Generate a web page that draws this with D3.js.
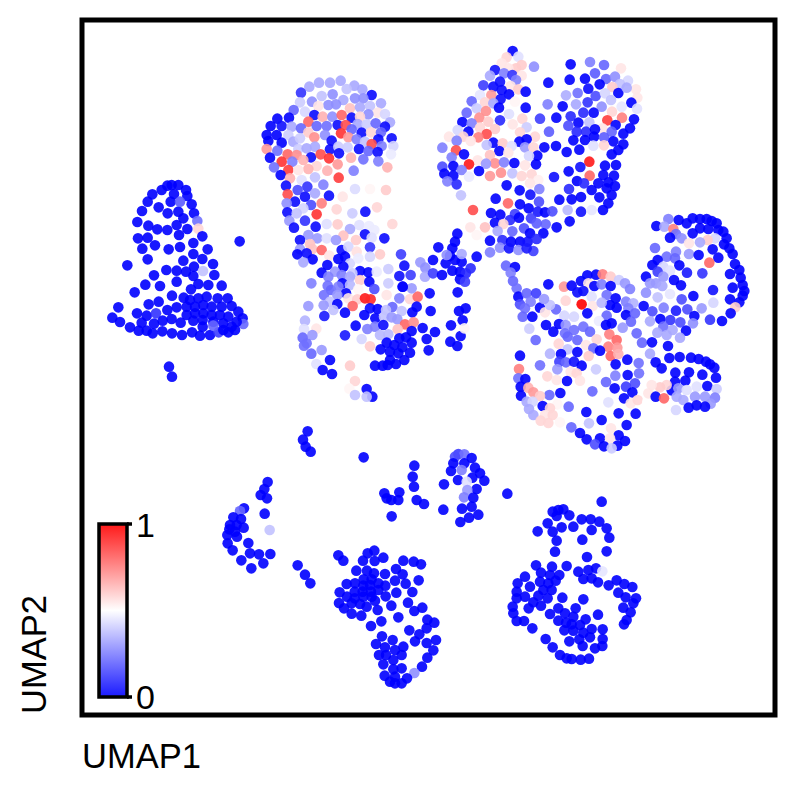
<!DOCTYPE html>
<html><head><meta charset="utf-8">
<script src="https://cdn.jsdelivr.net/npm/d3@7"></script>
<style>html,body{margin:0;padding:0;background:#fff}svg{display:block}text{font-family:"Liberation Sans",Arial,sans-serif;fill:#000}</style>
</head><body><svg id="chart" width="796" height="796"></svg>
<script>
// Each cluster: readings [a, b, score] measured from a local origin (a, b in 1/30 UMAP units)
const bellCluster=[[275,45,0],[295,45,0],[262,47,0],[245,60,0],[217,73,0],[203,95,0],[186,123,0],[172,156,0],[318,60,0],[322,78,0],[335,103,0],[342,130,0],[272,95,0],[282,72,0],[236,112,0],[263,130,0],[295,125,0],[310,145,0],[300,95,.18],[352,153,.22],[355,176,.58],[205,167,0],[232,178,0],[262,180,0],[290,165,0],[322,177,0],[297,195,0],[367,199,0],[174,205,0],[203,203,0],[225,226,0],[187,236,0],[266,238,0],[300,231,0],[340,219,0],[340,252,0],[383,238,0],[203,268,0],[142,286,0],[310,272,0],[367,267,0],[399,282,0],[342,290,0],[259,300,0],[290,302,0],[318,305,0],[369,303,.38],[403,315,0],[340,318,0],[222,316,0],[290,335,0],[196,344,0],[240,348,0],[355,342,0],[385,345,0],[425,347,0],[333,358,0],[164,367,0],[276,377,0],[311,383,0],[206,403,0],[236,395,0],[115,412,0],[97,443,0],[120,456,0],[171,430,0],[200,437,0],[228,430,.1],[262,420,0],[290,412,0],[275,447,0],[248,452,0],[185,458,0],[222,461,0],[150,472,0],[176,482,0],[200,482,0],[218,490,0],[247,484,0],[276,490,0],[306,495,0],[336,487,0],[360,497,0],[390,495,0],[302,458,0],[330,390,0],[355,385,0],[380,380,0],[413,385,0],[443,385,0],[320,410,0],[345,410,0],[370,405,0],[395,410,0],[425,410,0],[455,408,0],[475,425,0],[488,445,0],[490,462,.2],[470,455,0],[445,440,0],[420,435,0],[395,435,0],[370,430,0],[345,430,0],[320,435,0],[340,452,0],[368,450,0],[400,455,0],[430,460,0],[455,470,0],[465,480,0],[445,487,0],[416,487,.12],[400,467,.2],[368,470,0],[430,480,0],[267,590,0],[276,620,0],[479,214,0]];
const crownCluster=[[163,50,.33],[192,38,.33],[225,38,.33],[257,32,.33],[298,47,.33],[322,58,.33],[138,68,.1],[350,75,.02],[275,57,.38],[233,73,.28],[200,78,.38],[171,95,.28],[135,97,.4],[300,85,.28],[265,90,.33],[325,85,.28],[378,100,.33],[243,103,.28],[220,105,.28],[190,108,.55],[116,120,.2],[150,125,.42],[285,115,.62],[315,112,.33],[345,108,.38],[368,128,.55],[390,132,.42],[340,133,.28],[178,135,.02],[203,140,.65],[232,140,.28],[260,135,.8],[290,143,.02],[315,140,.58],[405,157,.33],[67,146,0],[102,143,0],[160,155,.8],[80,168,.03],[47,168,0],[185,168,.2],[215,168,.22],[248,165,.02],[272,165,.85],[308,162,.33],[335,163,.4],[362,160,.2],[390,170,.02],[110,170,.33],[138,175,.2],[35,195,0],[65,195,0],[100,195,.4],[160,187,.6],[258,190,.9],[290,178,.2],[320,188,.02],[348,187,.58],[378,187,.2],[178,202,.72],[210,195,.28],[280,202,.7],[410,205,.02],[40,213,0],[80,218,0],[115,215,.33],[135,205,.4],[230,212,.02],[305,208,.25],[330,215,.38],[370,208,.02],[350,222,.85],[415,228,.42],[35,237,.7],[67,242,.22],[130,237,.4],[155,235,.33],[180,230,.33],[225,238,.02],[250,230,.4],[278,232,.4],[312,237,.02],[340,243,.2],[380,228,.25],[368,246,.02],[45,263,0],[98,253,.8],[125,255,.72],[80,275,.9],[112,275,.25],[168,262,.02],[197,253,.85],[222,265,.9],[252,250,.02],[288,263,.65],[325,268,.22],[370,274,.25],[408,253,.46],[145,270,.65],[248,283,.7],[57,292,.22],[100,300,.88],[185,288,.58],[160,297,.65],[217,302,.65],[130,300,.55],[397,292,.65],[296,302,.25],[77,315,0],[105,325,.65],[180,322,.38],[251,323,.88],[140,330,.44],[93,347,.02],[157,350,.1],[128,360,.15],[205,344,.25],[300,357,.43],[345,357,.52],[393,360,.6],[98,373,.85],[150,380,.02],[180,370,.33],[222,377,.02],[263,380,.55],[120,395,.02],[95,400,.28],[168,405,.15],[200,400,.75],[145,415,.42],[245,418,.58],[292,430,.4],[331,425,.02],[366,412,.58],[97,427,.02],[185,433,.9],[125,430,.38],[103,452,.3],[150,452,.1],[215,462,.44],[248,463,.6],[313,465,.44],[342,468,.46],[412,462,.58],[117,473,.02],[182,470,.02],[285,477,.33],[358,480,.46],[160,495,.3],[187,505,.3],[330,493,.02],[265,497,.62],[135,510,.02],[215,505,.44],[243,510,.3],[388,505,.02],[303,510,.6],[350,503,.44]];
const lowerCrown=[[90,42,.62],[97,57,.62],[125,60,.8],[60,58,.3],[52,73,0],[80,70,.02],[148,77,.55],[185,60,.02],[205,50,.42],[270,52,.1],[230,65,.56],[300,73,.6],[175,87,0],[195,80,0],[98,88,0],[70,97,.33],[270,80,.42],[210,100,.42],[235,85,.46],[142,105,0],[190,110,0],[125,128,0],[165,125,.3],[145,140,.25],[240,123,0],[265,127,0],[217,130,.4],[290,125,.46],[325,117,.4],[185,135,.25],[210,140,.33],[94,160,.25],[143,167,.22],[187,160,0],[240,150,.6],[268,155,0],[325,160,.4],[153,180,.2],[210,165,.36],[175,170,.25],[132,195,.22],[198,190,0],[235,178,.52],[283,177,.15],[172,195,.3],[205,205,.55],[320,195,.55],[232,208,.6],[255,205,.95],[272,208,.92],[358,205,.25],[150,215,.38],[85,228,.3],[131,226,.3],[172,222,0],[218,228,.8],[390,207,.58],[413,200,.8],[395,175,.3],[368,170,.08],[195,248,0],[133,258,.05],[160,240,.38],[270,235,.02],[293,237,0],[337,231,.2],[318,240,.38],[365,243,.38],[410,230,0],[397,247,0],[253,255,0],[286,265,0],[312,260,.38],[335,262,.3],[352,268,.3],[75,272,.35],[227,287,0],[262,297,.25],[285,290,.25],[310,285,.02],[375,283,.8],[401,277,.72],[353,298,.62],[109,296,.55],[72,297,.44],[97,315,.3],[395,303,0],[195,316,.05],[300,315,.36],[325,313,.36],[245,327,.42],[68,323,.2],[358,325,0],[378,322,0],[270,349,.6],[80,340,.22],[72,347,.22],[125,360,.3],[94,371,.2],[320,338,0],[343,345,0],[367,352,0],[395,338,0],[302,358,0],[330,365,0],[355,370,0],[390,368,0],[330,390,0],[373,390,0],[348,402,0],[323,405,0],[308,407,0],[285,407,0],[150,390,0],[109,402,.44],[128,420,0],[156,432,0],[210,407,.6],[225,453,.58],[208,476,.52],[260,477,0],[225,495,.38],[277,500,0],[260,500,.38],[363,73,.12],[373,107,.02],[358,138,.03],[392,135,.12],[368,170,0],[421,97,.3],[436,113,.28],[435,140,.33],[459,130,.12],[459,90,0],[486,135,0],[510,77,0],[497,100,0],[525,90,0],[545,95,0],[517,122,0],[540,125,0],[572,115,.08],[558,130,.08],[540,148,0],[555,155,.12],[449,190,0],[452,243,0],[533,187,0],[537,243,0],[557,235,0],[548,271,0],[428,294,0],[465,306,0],[513,286,0],[440,327,0],[446,361,0],[542,318,0],[553,295,.52],[511,335,0],[532,348,0]];
const topRightCluster=[[248,33,0],[230,52,.58],[265,50,.44],[215,70,.55],[312,80,.28],[275,75,.6],[258,85,.6],[195,90,.03],[235,85,.55],[180,107,.33],[222,100,.25],[247,105,.1],[275,107,.55],[210,125,.03],[258,120,.25],[160,136,.12],[190,140,.02],[242,138,.55],[265,148,.6],[215,150,.02],[287,155,0],[237,163,0],[150,165,.45],[184,165,.7],[165,187,.58],[212,177,.02],[125,184,.2],[255,185,.52],[190,190,.33],[140,205,.4],[207,203,0],[287,203,0],[110,218,.2],[168,213,.72],[237,222,.44],[148,233,.72],[277,236,.58],[97,246,0],[125,250,.25],[175,245,.6],[210,241,.08],[330,236,.12],[248,253,.55],[150,263,.58],[195,267,.6],[290,262,.4],[83,270,.42],[115,275,0],[270,277,.58],[57,290,.55],[100,290,.58],[170,282,.85],[145,292,.75],[122,303,.55],[315,290,.58],[190,308,0],[218,310,.6],[80,302,.25],[268,305,0],[290,298,0],[245,318,.44],[170,315,.38],[285,322,.3],[310,322,.58],[37,323,.25],[78,331,.85],[208,333,0],[235,338,.55],[322,347,0],[102,343,0],[180,345,.62],[297,348,.42],[65,352,.25],[143,361,.55],[195,370,.72],[222,367,.25],[168,371,.3],[253,369,0],[285,376,.55],[318,373,0],[117,373,.95],[37,380,.15],[70,378,0],[95,390,.25],[147,393,0],[213,398,.72],[247,400,.38],[180,408,.7],[43,401,0],[70,407,0],[275,408,.58],[305,403,.58],[325,420,.53],[117,410,.46],[52,424,.25],[300,430,.55],[80,433,.08],[230,436,0],[328,447,.25],[93,466,.38],[269,451,0],[301,464,.03],[197,476,0],[234,490,.8],[327,485,.15],[129,510,.85],[270,493,0],[183,519,0],[211,524,0],[296,505,0],[323,515,.05],[345,517,0],[255,522,.12],[240,540,.08],[267,533,0],[195,548,0],[220,552,.58],[303,535,.12],[347,553,.2],[282,565,.15],[320,550,.18],[203,573,.33],[247,574,.2],[121,562,.55],[165,562,.62],[140,585,.52],[300,580,0],[340,580,0],[82,581,0],[217,600,.08],[180,602,0],[243,605,0],[270,605,0],[293,605,.03],[320,597,.08],[75,605,0],[25,622,0],[67,625,0],[210,623,.28],[237,625,.03],[265,630,.28],[310,633,.12],[180,637,.25],[290,625,.05],[95,642,.33],[50,645,.28],[140,650,0],[422,73,0],[480,66,.25],[522,75,.2],[573,85,.55],[495,100,.18],[355,128,0],[419,119,0],[465,116,0],[528,117,.2],[555,110,.28],[594,122,.42],[509,133,0],[570,132,.38],[547,141,.6],[475,146,.02],[618,148,.55],[443,159,.22],[408,166,.34],[497,168,.15],[565,159,0],[525,160,.42],[590,143,.33],[622,173,.55],[353,193,.25],[473,187,.1],[398,199,0],[438,193,.33],[543,180,.38],[604,188,0],[515,200,.28],[575,200,.45],[621,206,.44],[546,215,.58],[460,218,.08],[491,218,0],[422,229,.08],[379,233,0],[576,233,.75],[532,241,.88],[612,238,0],[445,248,0],[415,257,.15],[478,247,.38],[557,255,0],[600,265,0],[517,265,.55],[357,275,.18],[440,275,.08],[468,275,.08],[495,268,0],[545,275,.2],[580,281,0],[492,290,0],[522,292,.18],[430,301,0],[465,300,0],[550,304,0],[580,313,0],[343,322,0],[378,318,0],[490,317,.44],[448,329,0],[410,336,0],[522,316,.58],[565,330,0],[545,343,0],[478,365,.95],[525,377,0],[558,375,0],[451,381,.03],[416,394,0],[479,407,.8],[520,405,0],[552,407,0],[372,411,.03],[441,423,0],[505,430,0],[535,427,0],[462,430,.08],[555,438,0],[530,445,0],[417,447,.08],[485,450,0],[545,465,0],[508,472,0],[453,471,0],[388,479,0],[425,478,0],[535,490,0],[413,510,.36],[453,515,.03],[485,510,.45],[519,510,0],[367,514,.15],[419,544,0],[380,562,0]];
const rightFlower=[[18,182,.2],[45,186,0],[32,203,.25],[39,228,.2],[50,250,.22],[55,275,0],[80,265,.2],[108,265,.12],[92,290,.25],[60,298,.15],[120,308,0],[75,310,.22],[68,335,.2],[97,335,0],[135,322,.55],[168,313,.2],[150,300,.38],[132,282,.3],[145,238,0],[192,245,.7],[215,242,0],[243,228,0],[262,211,0],[288,209,0],[308,208,.75],[332,215,.6],[357,225,.4],[375,235,.3],[265,235,.55],[232,262,.02],[250,258,.02],[283,243,0],[305,238,.25],[332,243,0],[390,252,.25],[197,287,.58],[245,298,1],[275,275,.44],[320,270,.22],[347,280,0],[330,300,0],[350,308,0],[378,290,.25],[400,295,.35],[278,303,.55],[305,293,.36],[385,310,.25],[262,325,0],[222,335,.42],[193,332,.42],[320,332,.2],[378,330,0],[405,325,.2],[393,350,.2],[297,348,.46],[138,360,0],[177,357,0],[160,380,0],[197,360,.3],[335,355,0],[318,360,0],[368,368,.3],[88,371,.4],[250,365,.22],[222,375,.22],[270,380,.2],[195,385,.22],[203,395,.2],[328,388,.75],[107,405,.2],[232,405,.2],[290,403,.58],[350,405,.8],[410,385,.2],[426,413,.2],[176,416,.58],[258,420,.55],[325,425,.75],[352,428,.7],[203,433,.38],[280,430,.2],[300,437,0],[232,441,0],[183,447,0],[150,446,.35],[332,453,.8],[355,447,.65],[266,453,.6],[60,452,0],[178,470,.12],[198,472,.2],[222,470,.03],[245,482,0],[120,481,.22],[382,464,0],[416,474,.22],[347,478,0],[172,493,.3],[57,492,.75],[212,500,.55],[230,505,.58],[288,493,.4],[383,510,0],[346,512,.25],[417,505,.22],[142,514,.58],[55,520,.22],[76,522,0],[201,528,0],[240,527,.55],[318,531,.2],[170,525,.55],[405,535,.15],[62,545,0],[85,548,.65],[378,545,.12],[344,550,0],[100,562,.7],[181,564,0],[277,559,.2],[148,570,.2],[120,573,.6],[63,572,0],[397,562,0],[372,580,0],[80,590,.33],[98,590,.42],[392,595,.55],[413,585,.58],[442,590,.5],[128,603,0],[172,598,.52],[325,592,.44],[206,605,.2],[87,612,.33],[150,610,.58],[259,621,0],[356,625,0],[407,626,0],[100,630,.33],[135,630,.55],[158,630,.58],[122,647,.58],[145,654,.58],[180,652,.52],[267,655,.38],[305,645,0],[380,660,0],[214,667,.2],[333,670,.55],[240,684,0],[356,691,0],[260,703,0],[300,700,0],[375,708,0],[285,718,.15],[330,700,.55],[312,724,0],[352,722,0],[335,730,.4],[469,63,0],[505,42,.25],[493,65,.33],[536,45,0],[520,72,.75],[560,55,0],[578,40,0],[600,42,0],[620,42,0],[635,48,0],[650,55,0],[578,85,0],[600,70,0],[625,72,0],[655,75,0],[670,80,0],[528,87,.22],[545,100,.28],[510,98,0],[645,100,.42],[623,105,.6],[680,100,0],[600,112,.33],[567,115,.55],[672,118,0],[465,129,.2],[638,133,0],[688,130,0],[698,147,0],[528,140,.25],[567,147,.3],[596,150,0],[500,155,.22],[655,158,0],[473,165,0],[525,160,.2],[457,180,0],[628,173,.8],[705,177,0],[490,185,.42],[538,181,0],[473,200,.12],[510,197,.44],[718,195,0],[561,203,.05],[607,205,.1],[690,207,0],[438,215,0],[490,215,.3],[722,218,0],[522,225,0],[468,235,.3],[450,235,.3],[487,243,.33],[543,241,0],[728,240,0],[698,248,0],[438,263,.28],[639,255,.03],[733,258,0],[510,267,.45],[473,277,.38],[580,273,0],[728,272,0],[545,283,.15],[690,283,0],[718,292,0],[640,293,.42],[431,303,0],[491,308,.25],[706,307,.6],[457,319,.15],[528,317,.05],[562,313,.15],[605,310,.3],[692,325,0],[583,333,0],[450,349,.33],[481,342,0],[511,345,.1],[541,352,.15],[630,344,.1],[666,348,0],[490,365,.22],[579,355,.28],[518,375,.33],[558,377,0],[472,383,.33],[500,390,.33],[540,398,.33],[456,412,0],[504,423,0],[450,446,.33],[508,459,0],[539,456,0],[573,458,0],[596,462,0],[618,470,0],[467,472,0],[485,490,0],[630,478,0],[643,488,0],[526,503,0],[567,502,0],[607,509,0],[648,518,0],[556,527,0],[622,543,0],[525,530,0],[515,556,0],[500,540,.58],[480,547,.6],[455,540,.55],[445,565,.55],[467,575,0],[492,580,.8],[535,550,.3],[560,555,.44],[590,545,.44],[650,552,.4],[530,575,.33],[550,585,.33],[585,575,.3],[615,575,.3],[645,578,.25],[632,596,.3],[566,608,0],[590,601,0],[615,605,0],[528,615,.42]];
const lowLeftCluster=[[683,34,0],[669,59,0],[677,80,0],[692,95,0],[851,112,0],[1003,137,0],[998,170,0],[1002,200,0],[913,220,0],[958,217,0],[920,235,0],[934,240,0],[955,240,0],[1010,240,0],[1032,252,0],[935,289,0],[563,186,0],[553,207,0],[542,225,0],[561,235,0],[492,265,0],[480,273,.2],[554,281,0],[460,292,0],[483,297,0],[450,315,0],[470,315,0],[491,323,0],[448,328,0],[569,330,.38],[465,335,0],[442,345,0],[471,350,0],[443,370,0],[505,369,0],[458,391,0],[510,400,0],[537,403,0],[571,402,0],[484,421,0],[550,430,0],[514,445,0],[653,436,0],[675,464,0],[691,490,0],[775,406,0],[790,422,0],[883,392,0],[863,400,0],[849,422,0],[884,423,0],[910,413,0],[970,422,0],[1001,425,0],[1023,433,0],[948,447,0],[829,452,0],[861,452,0],[882,460,0],[915,462,0],[968,463,0],[851,478,0],[875,478,0],[945,482,0],[1016,481,0],[800,492,0],[825,490,0],[850,497,0],[870,495,0],[895,490,0],[916,497,0],[977,491,0],[779,517,0],[824,515,0],[848,515,0],[873,515,0],[895,510,0],[949,518,0],[997,516,0],[801,530,0],[824,535,0],[850,530,0],[875,530,0],[917,529,0],[777,549,0],[815,550,0],[840,552,0],[860,560,0],[885,542,0],[934,557,0],[984,548,0],[792,565,0],[815,581,0],[844,587,0],[893,570,0],[1003,573,0],[1027,563,0],[955,592,0],[904,604,0],[873,618,0],[1042,599,0],[1040,625,0],[988,631,0],[1018,643,0],[906,649,0],[938,660,0],[1005,664,0],[888,672,0],[915,682,0],[1040,669,0],[970,680,0],[945,690,0],[918,705,0],[897,705,0],[965,705,0],[1042,713,0],[940,720,0],[910,733,0],[965,745,0],[940,748,0],[1026,740,0],[1003,759,.28],[914,767,0],[945,770,0],[981,775,0],[930,785,0],[945,790,0],[965,790,0]];
const lowRightCluster=[[193,548,0],[198,600,0],[190,631,0],[222,133,0],[220,209,0],[265,42,.12],[283,43,.22],[255,50,.15],[305,54,0],[250,70,0],[283,70,0],[243,93,0],[315,83,0],[275,90,.25],[330,100,0],[307,113,0],[264,120,0],[343,122,0],[290,125,.44],[320,147,0],[292,150,.3],[282,172,.25],[310,173,0],[412,161,0],[305,200,0],[276,206,0],[325,224,0],[297,233,0],[271,246,0],[695,185,0],[565,210,0],[548,215,0],[580,208,0],[598,226,0],[560,228,0],[533,250,0],[575,262,0],[548,275,0],[503,274,0],[635,238,0],[662,238,0],[688,245,0],[610,260,0],[665,270,0],[710,265,0],[718,293,0],[560,302,0],[637,299,0],[555,335,0],[710,334,0],[651,351,0],[498,376,0],[546,380,0],[590,378,0],[625,395,0],[655,390,0],[678,385,0],[697,394,.45],[465,410,0],[513,398,0],[540,405,0],[568,405,0],[640,417,0],[665,415,0],[684,427,0],[443,430,0],[480,440,0],[510,425,0],[535,430,0],[557,422,0],[716,436,0],[740,421,0],[763,432,0],[787,441,0],[440,455,0],[520,450,0],[545,450,0],[745,458,0],[767,472,0],[798,475,0],[440,475,0],[465,470,0],[505,467,0],[533,475,0],[577,473,0],[640,478,0],[428,500,0],[490,487,0],[513,497,0],[476,505,0],[790,490,0],[760,503,0],[430,520,0],[540,522,0],[565,505,0],[617,505,0],[585,520,0],[684,524,0],[782,517,0],[440,543,0],[462,543,0],[565,542,0],[610,530,0],[647,538,0],[770,540,0],[762,553,0],[588,548,0],[605,553,0],[630,555,0],[487,565,0],[583,571,0],[610,572,0],[640,578,0],[665,567,0],[698,568,0],[527,597,0],[598,604,0],[628,598,0],[660,592,0],[698,597,0],[638,618,0],[675,625,0],[697,618,0],[548,622,0],[570,645,0],[590,655,0],[605,657,0],[632,659,0],[657,656,0]];

const clusterOrigins=[[bellCluster,8,63],[crownCluster,25.5,73],[lowerCrown,28,57],[topRightCluster,43,76],[rightFlower,50,59.5],[lowLeftCluster,8,38],[lowRightCluster,37,36]];
const legendTicks=[0,1];
const axisNames=["UMAP1","UMAP2"];

const points=clusterOrigins.flatMap(([rows,u0,w0])=>rows.map(([a,b,score])=>({u1:u0+a/30,u2:w0-b/30,score})));

const svg=d3.select("#chart");
const x=d3.scaleLinear().domain([8.2,77.5]).range([82,775]);
const y=d3.scaleLinear().domain([8.5,78]).range([715,20]);
const color=d3.scaleLinear().domain([0,.5,1]).range(["#0000ff","#ffffff","#ff0000"]);

svg.append("g").selectAll("circle").data(points).join("circle")
  .attr("cx",d=>x(d.u1)).attr("cy",d=>y(d.u2)).attr("r",5.3)
  .attr("fill",d=>color(d.score)).attr("fill-opacity",.9);

svg.append("rect").attr("x",82).attr("y",20).attr("width",693).attr("height",695)
  .attr("fill","none").attr("stroke","#000").attr("stroke-width",5);

// colour legend
const legendScale=d3.scaleLinear().domain([0,1]).range([697,524]);
const grad=svg.append("defs").append("linearGradient").attr("id","bwr").attr("x1",0).attr("x2",0).attr("y1",1).attr("y2",0);
d3.range(0,1.01,.1).forEach(t=>grad.append("stop").attr("offset",t).attr("stop-color",color(t)).attr("stop-opacity",.9));
svg.append("rect").attr("x",99).attr("y",524).attr("width",28).attr("height",173)
  .attr("fill","url(#bwr)").attr("stroke","#000").attr("stroke-width",3.5);
const lg=svg.append("g").selectAll("g").data(legendTicks).join("g").attr("transform",d=>`translate(0,${legendScale(d)})`);
lg.append("line").attr("x1",127).attr("x2",132).attr("stroke","#000").attr("stroke-width",3.5);
lg.append("text").attr("x",136).attr("y",d=>d===1?13:12).attr("font-size",34).text(d=>d);

svg.append("text").attr("x",82).attr("y",768).attr("font-size",34.5).text(axisNames[0]);
svg.append("text").attr("transform","translate(46,714) rotate(-90)").attr("font-size",34.5).text(axisNames[1]);
</script></body></html>
